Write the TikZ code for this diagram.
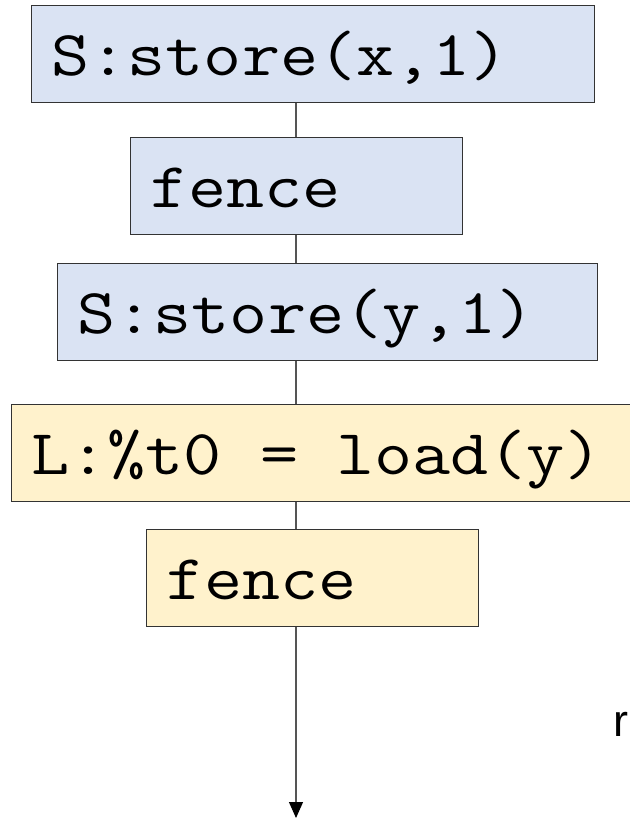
\documentclass[tikz,border=0pt]{standalone}
\usepackage{fontspec}
\newfontfamily\codefont[FakeStretch=1.155]{Latin Modern Mono}
\newfontfamily\labelsans{Liberation Sans}
\usetikzlibrary{arrows.meta}
\definecolor{storeblue}{HTML}{DAE3F3}
\definecolor{loadyellow}{HTML}{FFF2CC}
\definecolor{edgegray}{HTML}{333333}
\definecolor{spinegray}{HTML}{555555}
% one monospaced blank, as wide as a glyph of the code font
\newcommand\cspace{\hphantom{0}}
\tikzset{
  instr/.style={draw=edgegray, line width=1.4pt, anchor=north west,
    minimum height=97pt, inner xsep=20pt, inner ysep=0pt,
    text height=43pt, text depth=0pt, align=left,
    font=\fontsize{64}{70}\selectfont\codefont},
  spine/.style={draw=spinegray, line width=1.1pt},
}
\begin{document}
\begin{tikzpicture}
  \useasboundingbox (0,0) rectangle (629pt,-819pt);
  \begin{scope}[x=1pt, y=-1pt]
  % store thread (blue) and load thread (yellow)
  \node[instr, fill=storeblue, text width=523pt] (b1) at (31,5) {S:store(x,1)};
  \node[instr, fill=storeblue, text width=292pt] (b2) at (130,137) {fence};
  \node[instr, fill=storeblue, text width=500pt] (b3) at (57,263) {S:store(y,1)};
  \node[instr, fill=loadyellow, text width=640pt] (b4) at (11,404) {L:\%t0\cspace=\cspace load(y)};
  \node[instr, fill=loadyellow, text width=292pt] (b5) at (146,529) {fence};
  % program-order spine
  \coordinate (sp) at (296,0);
  \coordinate (end) at (296,818);
  \draw[spine] (b1.south -| sp) -- (b2.north -| sp);
  \draw[spine] (b2.south -| sp) -- (b3.north -| sp);
  \draw[spine] (b3.south -| sp) -- (b4.north -| sp);
  \draw[spine] (b4.south -| sp) -- (b5.north -| sp);
  \draw[spine, -{Triangle[width=14pt,length=16pt,color=black]}] (b5.south -| sp) -- (end);
  \node[anchor=base west, inner sep=0pt, font=\fontsize{45}{50}\selectfont\labelsans] (r) at (613,736) {r};
  \end{scope}
\end{tikzpicture}
\end{document}
